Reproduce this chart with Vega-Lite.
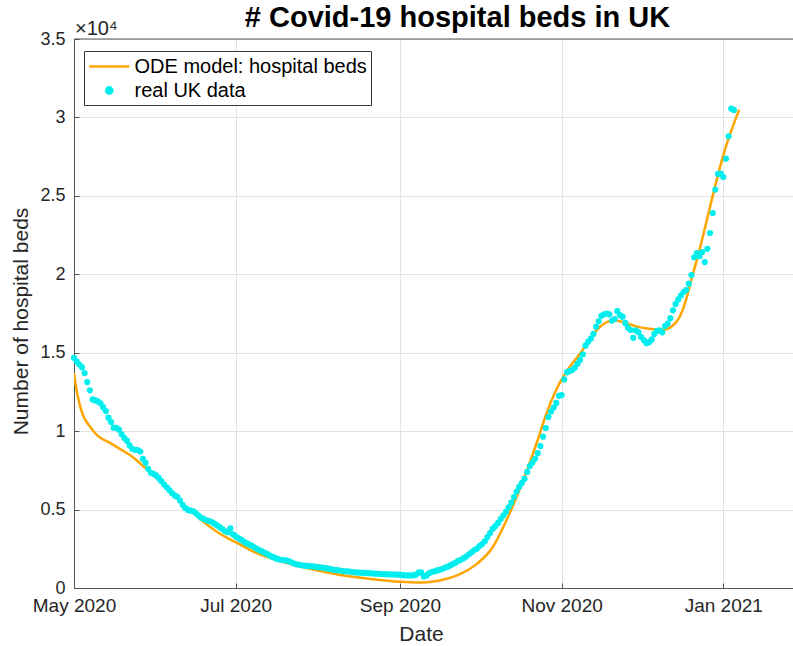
{
  "$schema": "https://vega.github.io/schema/vega-lite/v6.json",
  "autosize": {"type": "none"},
  "padding": {"left": 74, "top": 39, "right": 0, "bottom": 58},
  "width": 719,
  "height": 549,
  "background": "white",
  "title": {"text": "# Covid-19 hospital beds in UK", "fontSize": 29, "fontWeight": "bold", "font": "Liberation Sans", "color": "#000000", "frame": "group", "anchor": "middle", "offset": -14, "dx": 24},
  "config": {
    "font": "Liberation Sans",
    "view": {"stroke": null},
    "axis": {"grid": true, "gridColor": "#e3e3e3", "gridWidth": 1, "domainColor": "#555555", "domainWidth": 1, "tickColor": "#555555", "tickSize": -5, "labelColor": "#262626", "labelFont": "Liberation Sans", "labelFontSize": 18, "titleFont": "Liberation Sans", "titleFontSize": 21, "titleFontWeight": "normal", "titleColor": "#262626", "labelFlush": false, "labelOverlap": false},
    "legend": {"orient": "none", "legendX": 10, "legendY": 12, "padding": 4, "strokeColor": "#3a3a3a", "fillColor": "white", "labelFont": "Liberation Sans", "labelFontSize": 20, "labelColor": "#000000", "labelLimit": 0, "symbolSize": 400, "symbolStrokeWidth": 2.5, "symbolOffset": 9.75, "labelOffset": 13.75, "rowPadding": 2, "cornerRadius": 0}
  },
  "datasets": {
    "real": [
      {"d":"2020-05-01","v":14680},{"d":"2020-05-02","v":14450},{"d":"2020-05-03","v":14250},{"d":"2020-05-04","v":14080},{"d":"2020-05-05","v":13700},{"d":"2020-05-06","v":13130},{"d":"2020-05-07","v":12600},{"d":"2020-05-08","v":12020},{"d":"2020-05-09","v":11960},{"d":"2020-05-10","v":11900},{"d":"2020-05-11","v":11780},{"d":"2020-05-12","v":11530},{"d":"2020-05-13","v":11280},{"d":"2020-05-14","v":10860},{"d":"2020-05-15","v":10580},{"d":"2020-05-16","v":10220},{"d":"2020-05-17","v":10210},{"d":"2020-05-18","v":10090},{"d":"2020-05-19","v":9800},{"d":"2020-05-20","v":9560},{"d":"2020-05-21","v":9380},{"d":"2020-05-22","v":9090},{"d":"2020-05-23","v":8880},{"d":"2020-05-24","v":8810},{"d":"2020-05-25","v":8800},{"d":"2020-05-26","v":8700},{"d":"2020-05-27","v":8240},{"d":"2020-05-28","v":7980},{"d":"2020-05-29","v":7600},{"d":"2020-05-30","v":7350},{"d":"2020-05-31","v":7280},
      {"d":"2020-06-01","v":7180},{"d":"2020-06-02","v":7000},{"d":"2020-06-03","v":6800},{"d":"2020-06-04","v":6600},{"d":"2020-06-05","v":6420},{"d":"2020-06-06","v":6250},{"d":"2020-06-07","v":6050},{"d":"2020-06-08","v":5900},{"d":"2020-06-09","v":5800},{"d":"2020-06-10","v":5580},{"d":"2020-06-11","v":5300},{"d":"2020-06-12","v":5100},{"d":"2020-06-13","v":4980},{"d":"2020-06-14","v":4930},{"d":"2020-06-15","v":4890},{"d":"2020-06-16","v":4760},{"d":"2020-06-17","v":4620},{"d":"2020-06-18","v":4480},{"d":"2020-06-19","v":4400},{"d":"2020-06-20","v":4320},{"d":"2020-06-21","v":4270},{"d":"2020-06-22","v":4200},{"d":"2020-06-23","v":4100},{"d":"2020-06-24","v":3990},{"d":"2020-06-25","v":3880},{"d":"2020-06-26","v":3760},{"d":"2020-06-27","v":3620},{"d":"2020-06-28","v":3560},{"d":"2020-06-29","v":3800},{"d":"2020-06-30","v":3420},
      {"d":"2020-07-01","v":3290},{"d":"2020-07-02","v":3180},{"d":"2020-07-03","v":3080},{"d":"2020-07-04","v":2960},{"d":"2020-07-05","v":2860},{"d":"2020-07-06","v":2780},{"d":"2020-07-07","v":2710},{"d":"2020-07-08","v":2600},{"d":"2020-07-09","v":2490},{"d":"2020-07-10","v":2400},{"d":"2020-07-11","v":2330},{"d":"2020-07-12","v":2240},{"d":"2020-07-13","v":2170},{"d":"2020-07-14","v":2060},{"d":"2020-07-15","v":1980},{"d":"2020-07-16","v":1900},{"d":"2020-07-17","v":1840},{"d":"2020-07-18","v":1800},{"d":"2020-07-19","v":1780},{"d":"2020-07-20","v":1760},{"d":"2020-07-21","v":1710},{"d":"2020-07-22","v":1640},{"d":"2020-07-23","v":1560},{"d":"2020-07-24","v":1510},{"d":"2020-07-25","v":1480},{"d":"2020-07-26","v":1450},{"d":"2020-07-27","v":1430},{"d":"2020-07-28","v":1410},{"d":"2020-07-29","v":1390},{"d":"2020-07-30","v":1380},{"d":"2020-07-31","v":1360},
      {"d":"2020-08-01","v":1330},{"d":"2020-08-02","v":1320},{"d":"2020-08-03","v":1290},{"d":"2020-08-04","v":1270},{"d":"2020-08-05","v":1230},{"d":"2020-08-06","v":1200},{"d":"2020-08-07","v":1160},{"d":"2020-08-08","v":1140},{"d":"2020-08-09","v":1120},{"d":"2020-08-10","v":1100},{"d":"2020-08-11","v":1070},{"d":"2020-08-12","v":1060},{"d":"2020-08-13","v":1050},{"d":"2020-08-14","v":1020},{"d":"2020-08-15","v":1000},{"d":"2020-08-16","v":990},{"d":"2020-08-17","v":980},{"d":"2020-08-18","v":970},{"d":"2020-08-19","v":960},{"d":"2020-08-20","v":945},{"d":"2020-08-21","v":940},{"d":"2020-08-22","v":925},{"d":"2020-08-23","v":915},{"d":"2020-08-24","v":905},{"d":"2020-08-25","v":890},{"d":"2020-08-26","v":880},{"d":"2020-08-27","v":880},{"d":"2020-08-28","v":875},{"d":"2020-08-29","v":865},{"d":"2020-08-30","v":860},{"d":"2020-08-31","v":855},
      {"d":"2020-09-01","v":850},{"d":"2020-09-02","v":830},{"d":"2020-09-03","v":810},{"d":"2020-09-04","v":800},{"d":"2020-09-05","v":800},{"d":"2020-09-06","v":810},{"d":"2020-09-07","v":850},{"d":"2020-09-08","v":980},{"d":"2020-09-09","v":1000},{"d":"2020-09-10","v":740},{"d":"2020-09-11","v":800},{"d":"2020-09-12","v":950},{"d":"2020-09-13","v":1020},{"d":"2020-09-14","v":1070},{"d":"2020-09-15","v":1120},{"d":"2020-09-16","v":1160},{"d":"2020-09-17","v":1220},{"d":"2020-09-18","v":1290},{"d":"2020-09-19","v":1360},{"d":"2020-09-20","v":1440},{"d":"2020-09-21","v":1530},{"d":"2020-09-22","v":1620},{"d":"2020-09-23","v":1730},{"d":"2020-09-24","v":1800},{"d":"2020-09-25","v":1900},{"d":"2020-09-26","v":2010},{"d":"2020-09-27","v":2150},{"d":"2020-09-28","v":2280},{"d":"2020-09-29","v":2420},{"d":"2020-09-30","v":2500},
      {"d":"2020-10-01","v":2680},{"d":"2020-10-02","v":2800},{"d":"2020-10-03","v":2980},{"d":"2020-10-04","v":3250},{"d":"2020-10-05","v":3500},{"d":"2020-10-06","v":3780},{"d":"2020-10-07","v":3960},{"d":"2020-10-08","v":4150},{"d":"2020-10-09","v":4400},{"d":"2020-10-10","v":4620},{"d":"2020-10-11","v":4850},{"d":"2020-10-12","v":5150},{"d":"2020-10-13","v":5450},{"d":"2020-10-14","v":5800},{"d":"2020-10-15","v":6150},{"d":"2020-10-16","v":6450},{"d":"2020-10-17","v":6700},{"d":"2020-10-18","v":6960},{"d":"2020-10-19","v":7400},{"d":"2020-10-20","v":7780},{"d":"2020-10-21","v":8000},{"d":"2020-10-22","v":8250},{"d":"2020-10-23","v":8600},{"d":"2020-10-24","v":9050},{"d":"2020-10-25","v":9650},{"d":"2020-10-26","v":10200},{"d":"2020-10-27","v":10900},{"d":"2020-10-28","v":11250},{"d":"2020-10-29","v":11500},{"d":"2020-10-30","v":11800},{"d":"2020-10-31","v":12250},
      {"d":"2020-11-01","v":12300},{"d":"2020-11-02","v":13300},{"d":"2020-11-03","v":13750},{"d":"2020-11-04","v":13830},{"d":"2020-11-05","v":13900},{"d":"2020-11-06","v":14050},{"d":"2020-11-07","v":14300},{"d":"2020-11-08","v":14550},{"d":"2020-11-09","v":14900},{"d":"2020-11-10","v":15450},{"d":"2020-11-11","v":15700},{"d":"2020-11-12","v":15900},{"d":"2020-11-13","v":16200},{"d":"2020-11-14","v":16650},{"d":"2020-11-15","v":17000},{"d":"2020-11-16","v":17350},{"d":"2020-11-17","v":17450},{"d":"2020-11-18","v":17500},{"d":"2020-11-19","v":17450},{"d":"2020-11-20","v":17050},{"d":"2020-11-21","v":17150},{"d":"2020-11-22","v":17650},{"d":"2020-11-23","v":17400},{"d":"2020-11-24","v":17300},{"d":"2020-11-25","v":16900},{"d":"2020-11-26","v":16600},{"d":"2020-11-27","v":16450},{"d":"2020-11-28","v":15950},{"d":"2020-11-29","v":16420},{"d":"2020-11-30","v":16300},
      {"d":"2020-12-01","v":16000},{"d":"2020-12-02","v":15800},{"d":"2020-12-03","v":15600},{"d":"2020-12-04","v":15670},{"d":"2020-12-05","v":15850},{"d":"2020-12-06","v":16200},{"d":"2020-12-07","v":16400},{"d":"2020-12-08","v":16420},{"d":"2020-12-09","v":16300},{"d":"2020-12-10","v":16700},{"d":"2020-12-11","v":16850},{"d":"2020-12-12","v":17200},{"d":"2020-12-13","v":17700},{"d":"2020-12-14","v":18100},{"d":"2020-12-15","v":18400},{"d":"2020-12-16","v":18650},{"d":"2020-12-17","v":18870},{"d":"2020-12-18","v":19000},{"d":"2020-12-19","v":19400},{"d":"2020-12-20","v":19950},{"d":"2020-12-21","v":21080},{"d":"2020-12-22","v":21350},{"d":"2020-12-23","v":21150},{"d":"2020-12-24","v":21420},{"d":"2020-12-25","v":20780},{"d":"2020-12-26","v":21620},{"d":"2020-12-27","v":22630},{"d":"2020-12-28","v":23900},{"d":"2020-12-29","v":25400},{"d":"2020-12-30","v":26400},{"d":"2020-12-31","v":26420},
      {"d":"2021-01-01","v":26200},{"d":"2021-01-02","v":27370},{"d":"2021-01-03","v":28800},{"d":"2021-01-04","v":30560},{"d":"2021-01-05","v":30480}
    ],
    "ode": [
      {"d":"2020-05-01","v":13700},{"d":"2020-05-02","v":12600},{"d":"2020-05-03","v":11800},{"d":"2020-05-04","v":11200},{"d":"2020-05-05","v":10800},{"d":"2020-05-07","v":10300},{"d":"2020-05-10","v":9700},{"d":"2020-05-14","v":9300},{"d":"2020-05-18","v":8900},{"d":"2020-05-23","v":8370},{"d":"2020-05-28","v":7640},{"d":"2020-06-03","v":6720},{"d":"2020-06-11","v":5400},{"d":"2020-06-19","v":4200},{"d":"2020-06-26","v":3360},{"d":"2020-07-01","v":2920},{"d":"2020-07-09","v":2220},{"d":"2020-07-19","v":1650},{"d":"2020-07-29","v":1220},{"d":"2020-08-09","v":850},{"d":"2020-08-21","v":580},{"d":"2020-09-01","v":400},{"d":"2020-09-09","v":350},{"d":"2020-09-16","v":480},{"d":"2020-09-24","v":910},{"d":"2020-09-30","v":1540},{"d":"2020-10-06","v":2600},{"d":"2020-10-11","v":4250},{"d":"2020-10-15","v":5800},{"d":"2020-10-19","v":7550},{"d":"2020-10-23","v":9450},{"d":"2020-10-26","v":11000},{"d":"2020-10-30","v":12650},{"d":"2020-11-03","v":13850},{"d":"2020-11-08","v":14950},{"d":"2020-11-13","v":16200},{"d":"2020-11-18","v":16950},{"d":"2020-11-21","v":17060},{"d":"2020-11-24","v":16960},{"d":"2020-11-29","v":16680},{"d":"2020-12-04","v":16530},{"d":"2020-12-09","v":16470},{"d":"2020-12-13","v":16740},{"d":"2020-12-16","v":17450},{"d":"2020-12-18","v":18400},{"d":"2020-12-20","v":19700},{"d":"2020-12-22","v":20900},{"d":"2020-12-25","v":22900},{"d":"2020-12-28","v":25000},{"d":"2021-01-01","v":27600},{"d":"2021-01-07","v":30500}
    ]
  },
  "layer": [
    {
      "data": {"values": [{}]},
      "mark": {"type": "rule", "color": "#555555", "strokeWidth": 1},
      "encoding": {"y": {"datum": 35000, "type": "quantitative", "scale": {"domain": [0, 35000], "nice": false}}}
    },
    {
      "data": {"name": "ode"},
      "mark": {"type": "line", "strokeWidth": 2.5, "interpolate": "monotone", "clip": true},
      "encoding": {
        "x": {"field": "d", "type": "temporal", "scale": {"type": "utc", "domain": [1588291200000, 1611731520000], "nice": false},
              "axis": {"title": "Date", "values": [1588291200000, 1593561600000, 1598918400000, 1604188800000, 1609459200000], "labelExpr": "utcFormat(datum.value, '%b %Y')", "labelFontSize": 19, "labelPadding": 13, "titleX": 347, "titleY": 52, "titleBaseline": "alphabetic"}},
        "y": {"field": "v", "type": "quantitative", "scale": {"domain": [0, 35000], "nice": false},
              "axis": {"title": "Number of hospital beds", "values": [0, 5000, 10000, 15000, 20000, 25000, 30000, 35000], "labelExpr": "'' + (datum.value / 10000)", "labelPadding": 14, "titleX": -47, "titleY": 282, "titleBaseline": "alphabetic", "titleAngle": 270, "titleAlign": "center"}},
        "color": {"datum": "ODE model: hospital beds", "type": "nominal",
                  "scale": {"domain": ["ODE model: hospital beds", "real UK data"], "range": ["#ffa500", "#00eeee"]},
                  "legend": {"title": null,
                    "encode": {"symbols": {"update": {
                      "shape": {"signal": "datum.value === 'real UK data' ? 'circle' : 'M-2,0H2'"},
                      "size": {"signal": "datum.value === 'real UK data' ? 40 : 400"},
                      "fill": {"signal": "datum.value === 'real UK data' ? '#00eeee' : 'transparent'"},
                      "stroke": {"signal": "datum.value === 'real UK data' ? 'transparent' : '#ffa500'"},
                      "strokeWidth": {"value": 2.5}
                    }}}}}
      }
    },
    {
      "data": {"name": "real"},
      "mark": {"type": "circle", "size": 38, "opacity": 1},
      "encoding": {
        "x": {"field": "d", "type": "temporal", "title": "Date"},
        "y": {"field": "v", "type": "quantitative", "title": "Number of hospital beds"},
        "color": {"datum": "real UK data", "type": "nominal"}
      }
    },
    {
      "data": {"values": [{}]},
      "mark": {"type": "text", "text": "×10⁴", "align": "left", "baseline": "alphabetic", "dy": -4, "dx": 1, "fontSize": 20, "font": "Liberation Sans", "color": "#262626"},
      "encoding": {
        "x": {"datum": 1588291200000, "type": "temporal"},
        "y": {"datum": 35000, "type": "quantitative"}
      }
    }
  ]
}
